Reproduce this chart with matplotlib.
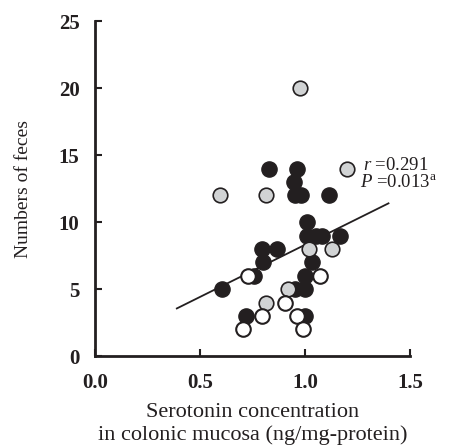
import matplotlib.pyplot as plt

# filled (black) points
black_x = [0.83, 0.963, 0.949, 0.95, 0.98, 1.114, 1.008, 1.01, 1.05, 1.08, 1.167,
           1.035, 0.794, 0.868, 0.802, 0.755, 1.0, 0.603, 0.95, 1.0, 0.717, 1.0]
black_y = [14, 14, 13, 12, 12, 12, 10, 9, 9, 9, 9,
           7, 8, 8, 7, 6, 6, 5, 5, 5, 3, 3]

# gray points
gray_x = [0.976, 1.198, 0.595, 0.814, 1.019, 1.127, 0.813, 0.917]
gray_y = [20, 14, 12, 12, 8, 8, 4, 5]

# open (white) points
open_x = [0.73, 1.07, 0.905, 0.797, 0.96, 0.706, 0.99]
open_y = [6, 6, 4, 3, 3, 2, 2]

# regression line
fit_x = [0.39, 1.397]
fit_y = [3.56, 11.4]

xticks = [0.0, 0.5, 1.0, 1.5]
xtick_labels = ['0.0', '0.5', '1.0', '1.5']
yticks = [0, 5, 10, 15, 20, 25]

plt.rcParams['font.family'] = ['Liberation Serif', 'DejaVu Serif']
plt.rcParams['mathtext.fontset'] = 'custom'
plt.rcParams['mathtext.rm'] = 'Liberation Serif'
plt.rcParams['mathtext.it'] = 'Liberation Serif:italic'

ink = '#231f20'

fig = plt.figure(figsize=(4.65, 4.48), dpi=100)
ax = fig.add_axes([0.204, 0.205, 0.678, 0.748])

ax.plot(fit_x, fit_y, color=ink, linewidth=1.3, zorder=1)
ax.scatter(black_x, black_y, s=120, c=ink, edgecolors=ink, linewidths=1.0, zorder=2)
ax.scatter(gray_x, gray_y, s=110, c='#d1d3d4', edgecolors=ink, linewidths=1.2, zorder=3)
ax.scatter(open_x, open_y, s=110, c='white', edgecolors=ink, linewidths=1.5, zorder=4)

ax.set_xlim(0, 1.5)
ax.set_ylim(0, 25)
ax.set_xticks(xticks)
ax.set_xticklabels(xtick_labels)
ax.set_yticks(yticks)

for side in ['top', 'right']:
    ax.spines[side].set_visible(False)
for side in ['left', 'bottom']:
    ax.spines[side].set_linewidth(2.0)
    ax.spines[side].set_color(ink)

ax.tick_params(direction='in', length=5, width=1.5, colors=ink, labelsize=15)
ax.tick_params(axis='x', pad=12)
ax.tick_params(axis='y', pad=11)
for lab in ax.get_xticklabels() + ax.get_yticklabels():
    lab.set_fontweight('bold')

ax.set_xlabel('Serotonin concentration\nin colonic mucosa (ng/mg-protein)',
              fontsize=16, color=ink, labelpad=7, linespacing=1.25)
ax.set_ylabel('Numbers of feces', fontsize=14, color=ink, labelpad=19)

ax.text(1.276, 14.25, r'$\it{r}$ =0.291', fontsize=13.5, color=ink, va='center')
ax.text(1.262, 12.95, r'$\it{P}$ =0.013$^{\rm a}$', fontsize=13.5, color=ink, va='center')

fig.savefig('out.png', dpi=100)
